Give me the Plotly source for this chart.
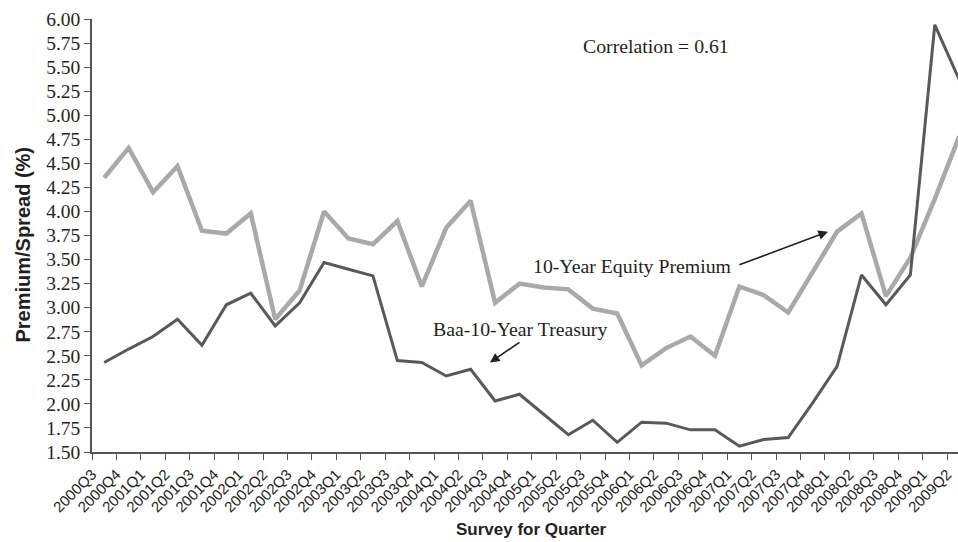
import plotly.graph_objects as go

quarters = ["2000Q3", "2000Q4",
            "2001Q1", "2001Q2", "2001Q3", "2001Q4",
            "2002Q1", "2002Q2", "2002Q3", "2002Q4",
            "2003Q1", "2003Q2", "2003Q3", "2003Q4",
            "2004Q1", "2004Q2", "2004Q3", "2004Q4",
            "2005Q1", "2005Q2", "2005Q3", "2005Q4",
            "2006Q1", "2006Q2", "2006Q3", "2006Q4",
            "2007Q1", "2007Q2", "2007Q3", "2007Q4",
            "2008Q1", "2008Q2", "2008Q3", "2008Q4",
            "2009Q1", "2009Q2"]

equity_premium = [4.35, 4.66, 4.20, 4.47, 3.80, 3.77, 3.98, 2.88, 3.18, 4.00,
                  3.72, 3.66, 3.90, 3.22, 3.83, 4.11, 3.05, 3.25, 3.21, 3.19,
                  2.99, 2.94, 2.40, 2.58, 2.70, 2.50, 3.22, 3.13, 2.95, 3.37,
                  3.79, 3.98, 3.12, 3.52, 4.13, 4.78]

baa_spread = [2.43, 2.57, 2.70, 2.88, 2.61, 3.03, 3.15, 2.81, 3.05, 3.47,
              3.40, 3.33, 2.45, 2.43, 2.29, 2.36, 2.03, 2.10, 1.89, 1.68,
              1.83, 1.60, 1.81, 1.80, 1.73, 1.73, 1.56, 1.63, 1.65, 2.01,
              2.39, 3.34, 3.03, 3.34, 5.94, 5.37]

y_ticks = [1.50, 1.75, 2.00, 2.25, 2.50, 2.75, 3.00, 3.25, 3.50, 3.75,
           4.00, 4.25, 4.50, 4.75, 5.00, 5.25, 5.50, 5.75, 6.00]

# points sit between the boundary ticks
x_pts = [i + 0.5 for i in range(len(quarters))]
x_ticks = list(range(len(quarters)))

serif = "Liberation Serif, Times New Roman, serif"
sans = "Liberation Sans, Arial, sans-serif"
ink = "#231f20"

fig = go.Figure()
fig.add_trace(go.Scatter(x=x_pts, y=equity_premium, mode="lines",
                         line=dict(color="#a7a9ac", width=4.5),
                         name="10-Year Equity Premium", showlegend=False))
fig.add_trace(go.Scatter(x=x_pts, y=baa_spread, mode="lines",
                         line=dict(color="#58595b", width=3),
                         name="Baa-10-Year Treasury", showlegend=False))

fig.update_layout(
    width=958, height=542,
    margin=dict(l=92, r=0, t=19, b=90, autoexpand=False),
    plot_bgcolor="white", paper_bgcolor="white",
    showlegend=False,
    xaxis=dict(range=[0, 35.45], tickmode="array", tickvals=x_ticks,
               ticktext=quarters, tickangle=-45, automargin=False,
               tickfont=dict(family=sans, size=15, color=ink),
               showgrid=False, zeroline=False,
               showline=True, linecolor="#555555", linewidth=1.5,
               ticks="outside", ticklen=6, tickcolor="#555555", tickwidth=1.2),
    yaxis=dict(range=[1.5, 6.0], tickmode="array", tickvals=y_ticks,
               tickformat=".2f", automargin=False,
               tickfont=dict(family=serif, size=19.5, color=ink),
               showgrid=False, zeroline=False,
               showline=True, linecolor="#555555", linewidth=1.5,
               ticks="outside", ticklen=6, tickcolor="#555555", tickwidth=1.2),
)

# axis titles
fig.add_annotation(text="<b>Survey for Quarter</b>", xref="paper", yref="paper",
                   x=0.508, y=-0.18, xanchor="center", yanchor="middle",
                   showarrow=False,
                   font=dict(family=sans, size=17, color=ink))
fig.add_annotation(text="<b>Premium/Spread (%)</b>", xref="paper", yref="paper",
                   x=0, xshift=-69, y=0.479, xanchor="center", yanchor="middle",
                   textangle=-90, showarrow=False,
                   font=dict(family=sans, size=20, color=ink))

# text labels
fig.add_annotation(text="Correlation = 0.61", x=23.07, y=5.72, showarrow=False,
                   font=dict(family=serif, size=19.8, color=ink))
fig.add_annotation(text="10-Year Equity Premium", x=22.12, y=3.43, showarrow=False,
                   font=dict(family=serif, size=19.8, color=ink))
fig.add_annotation(text="Baa-10-Year Treasury", x=17.54, y=2.78, showarrow=False,
                   font=dict(family=serif, size=19.8, color=ink))

# arrows
fig.add_annotation(text="", x=30.13, y=3.79, ax=26.44, ay=3.44,
                   xref="x", yref="y", axref="x", ayref="y",
                   showarrow=True, arrowhead=2, arrowsize=1.2, arrowwidth=1.6,
                   arrowcolor=ink)
fig.add_annotation(text="", x=16.29, y=2.43, ax=17.56, ay=2.65,
                   xref="x", yref="y", axref="x", ayref="y",
                   showarrow=True, arrowhead=2, arrowsize=1.2, arrowwidth=1.6,
                   arrowcolor=ink)

fig.write_html("out.html", config={"displayModeBar": False},
               post_script="document.body.style.margin='0';document.body.style.padding='0';")
